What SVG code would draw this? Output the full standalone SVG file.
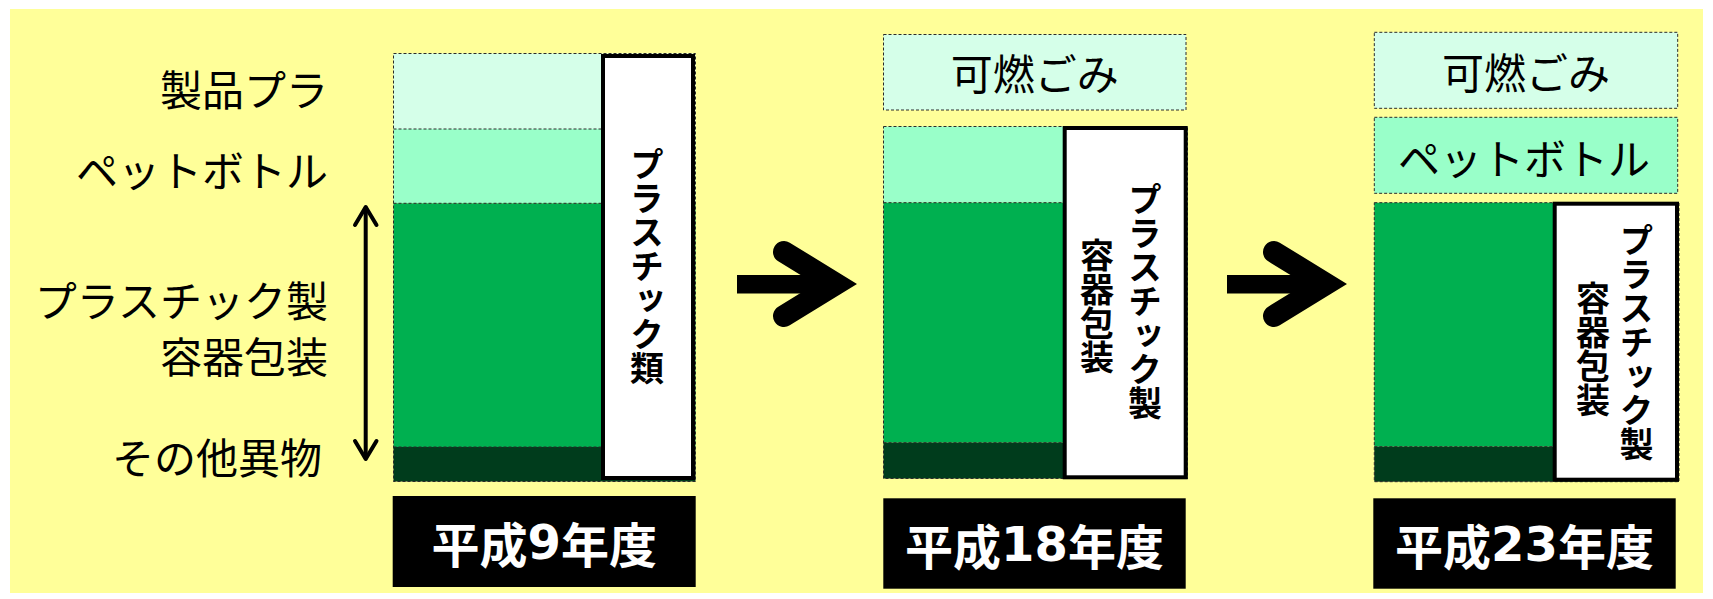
<svg xmlns="http://www.w3.org/2000/svg" width="1713" height="599" viewBox="0 0 1713 599">
<style>
.bg{fill:#FFFF99}
.dash{stroke:#2b2b2b;stroke-width:1;stroke-dasharray:3,2}
.c-light{fill:#D5FFE9}
.c-pet{fill:#99FFC9}
.c-green{fill:#00B050}
.c-dark{fill:#003C1C}
.wbox{fill:#FFFFFF;stroke:#000;stroke-width:4}
.lbl{fill:#000}
.t{font-family:"Noto Sans CJK JP","Noto Sans CJK SC",sans-serif;}
.num{font-family:"DejaVu Sans","Noto Sans CJK JP",sans-serif;}
.side{font-size:42px;fill:#000;text-anchor:end;dominant-baseline:central}
.box{font-size:42px;fill:#000;text-anchor:middle;dominant-baseline:central}
.year{font-size:48px;font-weight:700;fill:#FFF;text-anchor:middle;dominant-baseline:central}
.vert{font-size:34px;font-weight:700;fill:#000;text-anchor:middle;writing-mode:vertical-rl}
.arrow{fill:none;stroke:#000;stroke-width:22;stroke-linecap:round;stroke-linejoin:miter;stroke-miterlimit:4}
.dbl{fill:none;stroke:#000;stroke-width:4;stroke-linecap:round;stroke-linejoin:round}
</style>
<rect class="bg" x="10" y="9" width="1693" height="584"/>

<g id="side-labels" class="t">
<text class="side" x="328" y="87">製品プラ</text>
<text class="side" x="328" y="168">ペットボトル</text>
<text class="side" x="328" y="298">プラスチック製</text>
<text class="side" x="328" y="354">容器包装</text>
<text class="side" x="322" y="455">その他異物</text>
</g>

<g id="panel-h9">
<rect class="c-light" x="393.5" y="53.5" width="302" height="75.5"/>
<rect class="c-pet" x="393.5" y="129" width="302" height="74.3"/>
<rect class="c-green" x="393.5" y="203.3" width="302" height="243.7"/>
<rect class="c-dark" x="393.5" y="447" width="302" height="34.5"/>
<rect class="dash" fill="none" x="393.5" y="53.5" width="302" height="428"/>
<line class="dash" x1="393.5" y1="129" x2="601" y2="129"/>
<line class="dash" x1="393.5" y1="203.3" x2="601" y2="203.3"/>
<line class="dash" x1="393.5" y1="447" x2="601" y2="447"/>
<rect class="wbox" x="603" y="56" width="90" height="422"/>
<text class="t vert" x="647" y="266">プラスチック類</text>
</g>
<g id="label-h9">
<rect class="lbl" x="392.7" y="496" width="303" height="91"/>
<text class="t year" x="544.2" y="541.5">平成<tspan class="num">9</tspan>年度</text>
</g>

<g id="panel-h18">
<rect class="c-light dash" x="883.5" y="34.5" width="302.5" height="75.5"/>
<text class="t box" x="1034.7" y="71">可燃ごみ</text>
<rect class="c-pet" x="883.5" y="126.5" width="304" height="76.2"/>
<rect class="c-green" x="883.5" y="202.7" width="304" height="240"/>
<rect class="c-dark" x="883.5" y="442.7" width="304" height="35.8"/>
<rect class="dash" fill="none" x="883.5" y="126.5" width="304" height="352"/>
<line class="dash" x1="883.5" y1="202.7" x2="1063" y2="202.7"/>
<line class="dash" x1="883.5" y1="442.7" x2="1063" y2="442.7"/>
<rect class="wbox" x="1064.7" y="128" width="121" height="349.3"/>
<text class="t vert" x="1145" y="301">プラスチック製</text>
<text class="t vert" x="1097" y="306">容器包装</text>
</g>
<g id="label-h18">
<rect class="lbl" x="883.3" y="498.3" width="302.4" height="90.4"/>
<text class="t year" x="1034.5" y="543.5">平成<tspan class="num">18</tspan>年度</text>
</g>

<g id="panel-h23">
<rect class="c-light dash" x="1374.3" y="32.3" width="303.4" height="76"/>
<text class="t box" x="1526" y="70">可燃ごみ</text>
<rect class="c-pet dash" x="1374.3" y="117.3" width="303.4" height="76"/>
<text class="t box" x="1524" y="156">ペットボトル</text>
<rect class="c-green" x="1374.3" y="202.7" width="304.7" height="244"/>
<rect class="c-dark" x="1374.3" y="446.7" width="304.7" height="35"/>
<rect class="dash" fill="none" x="1374.3" y="202.7" width="304.7" height="279"/>
<line class="dash" x1="1374.3" y1="446.7" x2="1553" y2="446.7"/>
<rect class="wbox" x="1554.7" y="203.7" width="122.3" height="276"/>
<text class="t vert" x="1636.5" y="342">プラスチック製</text>
<text class="t vert" x="1593" y="349">容器包装</text>
</g>
<g id="label-h23">
<rect class="lbl" x="1373.3" y="498.3" width="302.4" height="90.4"/>
<text class="t year" x="1524.5" y="543.5">平成<tspan class="num">23</tspan>年度</text>
</g>

<g id="connectors">
<g id="arrow-1">
<rect x="737" y="275" width="95" height="18.5" fill="#000"/>
<polyline class="arrow" points="784,252 836,284 784,316"/>
</g>
<g id="arrow-2">
<rect x="1227" y="275" width="95" height="18.5" fill="#000"/>
<polyline class="arrow" points="1274,252 1326,284 1274,316"/>
</g>
<g id="double-arrow">
<line class="dbl" x1="365.7" y1="208" x2="365.7" y2="458"/>
<polyline class="dbl" points="355,225 365.7,207 376.5,225"/>
<polyline class="dbl" points="355,441 365.7,459 376.5,441"/>
</g>
</g>
</svg>
